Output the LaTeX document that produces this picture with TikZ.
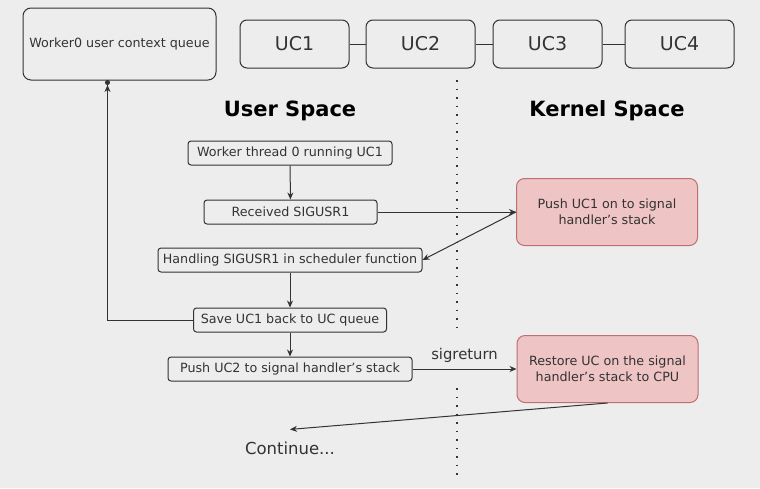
\documentclass[tikz,border=0pt]{standalone}
\usepackage{fontspec}
\setmainfont{DejaVu Sans}
\usetikzlibrary{arrows.meta}
\definecolor{bgcol}{HTML}{EDEDED}
\definecolor{linecol}{HTML}{333333}
\definecolor{kernfill}{HTML}{EFC4C4}
\definecolor{kerndraw}{HTML}{BF6F6F}

\begin{document}
\begin{tikzpicture}[x=1pt, y=-1pt,
    every node/.style={text=linecol, font=\fontsize{12.7}{15.5}\selectfont},
    box/.style={draw=linecol, line width=1pt, rounded corners=3pt, inner sep=0pt, minimum height=24pt},
    ucbox/.style={draw=linecol, line width=1pt, rounded corners=7pt, inner sep=0pt, minimum width=109pt, minimum height=48pt, font=\fontsize{19}{22}\selectfont},
    kbox/.style={draw=kerndraw, fill=kernfill, line width=1pt, rounded corners=8pt, inner sep=0pt, minimum width=181pt, minimum height=67pt, align=center},
    title/.style={text=black, font=\bfseries\fontsize{21}{25}\selectfont},
    arrow/.style={draw=linecol, line width=1pt, -{Stealth[length=7pt, width=6pt]}},
    link/.style={draw=linecol, line width=1pt},
    divider/.style={draw=linecol, line width=1.6pt, dash pattern=on 1.6pt off 6.9pt}]
    \fill[bgcol] (0,0) rectangle (760,488);
    \useasboundingbox (0,0) rectangle (760,488);

    % context queue
    \node[draw=linecol, line width=1pt, rounded corners=8pt, minimum width=193pt, minimum height=72pt] (queue) at (119.5,44) {Worker0 user context queue};
    \coordinate (qin) at (107.5,80);
    \node[ucbox] (uc1) at (294.5,44) {UC1};
    \node[ucbox] (uc2) at (420.5,44) {UC2};
    \node[ucbox] (uc3) at (547.5,44) {UC3};
    \node[ucbox] (uc4) at (679.5,44) {UC4};
    \draw[link] (uc1) -- (uc2);
    \draw[link] (uc2) -- (uc3);
    \draw[link] (uc3) -- (uc4);

    \node[title] (user) at (290,111) {User Space};
    \node[title] (kernel) at (607,111) {Kernel Space};

    % user space steps
    \node[box, minimum width=204pt] (run) at (290,153) {Worker thread 0 running UC1};
    \node[box, minimum width=173pt] (recv) at (290.5,212) {Received SIGUSR1};
    \node[box, minimum width=264pt] (handle) at (290,260) {Handling SIGUSR1 in scheduler function};
    \node[box, minimum width=193pt] (save) at (290,320) {Save UC1 back to UC queue};
    \node[box, minimum width=244pt] (push) at (290,369) {Push UC2 to signal handler's stack};
    \node[inner xsep=2pt, inner ysep=12pt, font=\fontsize{16.5}{20}\selectfont] (cont) at (290,448) {Continue...};

    % kernel space steps
    \node[kbox] (ksave) at (607,212) {Push UC1 on to signal\\handler's stack};
    \node[kbox] (krestore) at (607.5,369) {Restore UC on the signal\\handler's stack to CPU};

    \draw[divider] (457,80) -- (457,330);
    \draw[divider] (457,388) -- (457,478);

    \draw[arrow] (run) -- (recv);
    \draw[arrow] (recv) -- (ksave);
    \draw[arrow] (ksave.west) -- (handle.east);
    \draw[arrow] (handle) -- (save);
    \draw[arrow] (save) -- (push);
    \draw[link, -{Stealth[length=7pt, width=6pt] Circle[length=5pt]}] (save.west) -| (qin);
    \draw[arrow] (push) -- node[above=3pt, font=\fontsize{14.8}{18}\selectfont] (sig) {sigreturn} (krestore);
    \draw[arrow] (krestore.south) -- (cont.north);
\end{tikzpicture}
\end{document}
